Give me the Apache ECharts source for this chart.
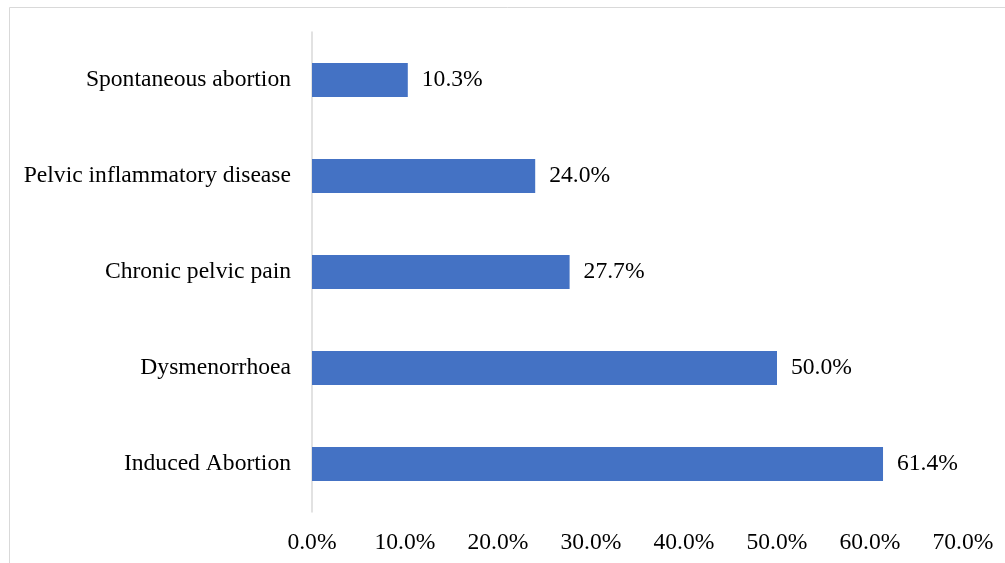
<!DOCTYPE html>
<html>
<head>
<meta charset="utf-8">
<script src="https://cdn.jsdelivr.net/npm/echarts@6/dist/echarts.min.js"></script>
<style>html,body{margin:0;padding:0;background:#fff;}#c{width:1005px;height:563px;}</style>
</head>
<body>
<div id="c"></div>
<script>
const categories = ["Induced Abortion", "Dysmenorrhoea", "Chronic pelvic pain", "Pelvic inflammatory disease", "Spontaneous abortion"];
const values = [61.4, 50.0, 27.7, 24.0, 10.3];
const xTicks = [0, 10, 20, 30, 40, 50, 60, 70];

const chart = echarts.init(document.getElementById('c'));
const font = '"Liberation Serif", "Times New Roman", serif';
chart.setOption({
  animation: false,
  backgroundColor: '#ffffff',
  graphic: [{
    type: 'rect',
    shape: { x: 9.5, y: 7.5, width: 1200, height: 800 },
    style: { fill: 'none', stroke: '#d9d9d9', lineWidth: 1 },
    silent: true
  }],
  grid: { left: 312, right: 42, top: 32, bottom: 51 },
  xAxis: {
    type: 'value',
    min: xTicks[0],
    max: xTicks[xTicks.length - 1],
    interval: 10,
    axisLine: { show: false },
    axisTick: { show: false },
    splitLine: { show: false },
    axisLabel: {
      margin: 19,
      color: '#000',
      fontFamily: font,
      fontSize: 23.6,
      formatter: v => v.toFixed(1) + '%'
    }
  },
  yAxis: {
    type: 'category',
    data: categories,
    axisLine: { show: true, lineStyle: { color: '#d9d9d9', width: 1.5 } },
    axisTick: { show: false },
    axisLabel: { margin: 21, color: '#000', fontFamily: font, fontSize: 23.6, padding: [9, 0, 0, 0] }
  },
  series: [{
    type: 'bar',
    data: values,
    barWidth: 34,
    itemStyle: { color: '#4472C4' },
    label: {
      show: true,
      position: 'right',
      distance: 14,
      color: '#000',
      fontFamily: font,
      fontSize: 23.6,
      padding: [9, 0, 0, 0],
      formatter: p => p.value.toFixed(1) + '%'
    }
  }]
});
</script>
</body>
</html>
